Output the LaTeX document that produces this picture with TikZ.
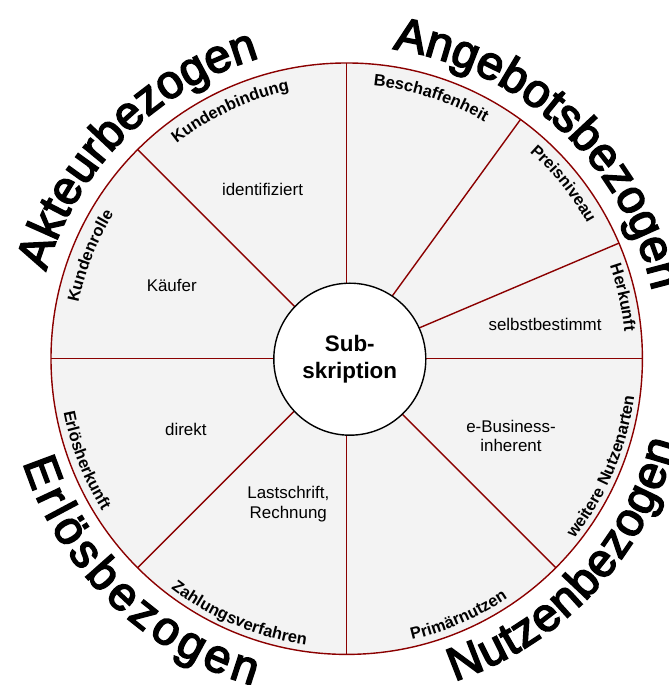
\documentclass[tikz,border=0pt]{standalone}
\usepackage{fontspec}
\setmainfont{Liberation Sans}
\newfontfamily\groupfamily[FakeBold=3.5]{Liberation Sans}
\usetikzlibrary{decorations.text}

\definecolor{rimred}{RGB}{139,0,0}
\definecolor{sectorgray}{RGB}{243,243,243}

% fonts for the three text levels
\newcommand\groupfont{\groupfamily\fontsize{47}{50}\selectfont}
\newcommand\criterionfont{\bfseries\fontsize{16.5}{18}\selectfont}

% text along an arc around (c): centre angle, baseline radius, font, text
% clockwise run (upper half, letters standing outward)
\newcommand\cwlabel[4]{%
  \path[decorate, decoration={text along path, text align=center, text={|#3|#4}}]
    (c) ++(#1+40:#2) arc[start angle=#1+40, end angle=#1-40, radius=#2];}
% counter-clockwise run (lower half, letters standing inward)
\newcommand\ccwlabel[4]{%
  \path[decorate, decoration={text along path, text align=center, text={|#3|#4}}]
    (c) ++(#1-40:#2) arc[start angle=#1-40, end angle=#1+40, radius=#2];}
% counter-clockwise run spread over a given angle range
\newcommand\ccwfit[5]{%
  \path[decorate, decoration={text along path, text align={fit to path}, text={|#4|#5}}]
    (c) ++(#1:#3) arc[start angle=#1, end angle=#2, radius=#3];}

\begin{document}
\begin{tikzpicture}[x=1bp, y=1bp,
  wheelstyle/.style={circle, fill=sectorgray, draw=rimred, line width=1.4bp,
    minimum size=591.4bp, inner sep=0pt, outer sep=0pt},
  spokeline/.style={draw=rimred, line width=1.4bp},
  hubstyle/.style={circle, fill=white, draw=black, line width=1.4bp,
    minimum size=152bp, inner sep=0pt, outer sep=0pt, align=center,
    font=\bfseries\fontsize{22.5}{27.7}\selectfont},
  valuetext/.style={anchor=base, align=center, inner sep=0pt,
    font=\fontsize{17}{19.5}\selectfont}
]
\useasboundingbox (0,0) rectangle (669,685);

\coordinate (c) at (346.7,326.3);

% the wheel and its sector boundaries
\node[wheelstyle] (wheel) at (c) {};
\foreach \a in {0,23,54,90,135,180,225,270,315}
  \draw[spokeline] (wheel.center) -- (wheel.\a);

% hub
\node[hubstyle] (hub) at (349.8,325.8) {Sub-\\skription};

% group headings outside the wheel
\cwlabel{135}{313}{\groupfont}{Akteurbezogen}
\cwlabel{47}{313}{\groupfont}{Angebotsbezogen}
\ccwfit{-71.5}{-14.3}{340}{\groupfont}{Nutzenbezogen}
\ccwfit{197.8}{254}{340}{\groupfont}{Erlösbezogen}

% criteria along the rim
\cwlabel{115.2}{274}{\criterionfont}{Kundenbindung}
\cwlabel{158.2}{274}{\criterionfont}{Kundenrolle}
\cwlabel{72.1}{274}{\criterionfont}{Beschaffenheit}
\cwlabel{38.9}{276}{\criterionfont}{Preisniveau}
\cwlabel{12.5}{279}{\criterionfont}{Herkunft}
\ccwlabel{201.3}{288}{\criterionfont}{Erlösherkunft}
\ccwlabel{247.2}{289}{\criterionfont}{Zahlungsverfahren}
\ccwlabel{-66.5}{288.5}{\criterionfont}{Primärnutzen}
\ccwlabel{-22.9}{290}{\criterionfont}{weitere Nutzenarten}

% values in the sectors
\node[valuetext] (bindung) at (262.5,489.3) {identifiziert};
\node[valuetext] (rolle) at (171.7,393.3) {Käufer};
\node[valuetext] (herkunft) at (545,354) {selbstbestimmt};
\node[valuetext] (erloes) at (185.8,249) {direkt};
\node[valuetext] (zahlung) at (288.3,166.7) {Lastschrift,\\Rechnung};
\node[valuetext] (nutzen) at (511,233.3) {e-Business-\\inherent};

\end{tikzpicture}
\end{document}
